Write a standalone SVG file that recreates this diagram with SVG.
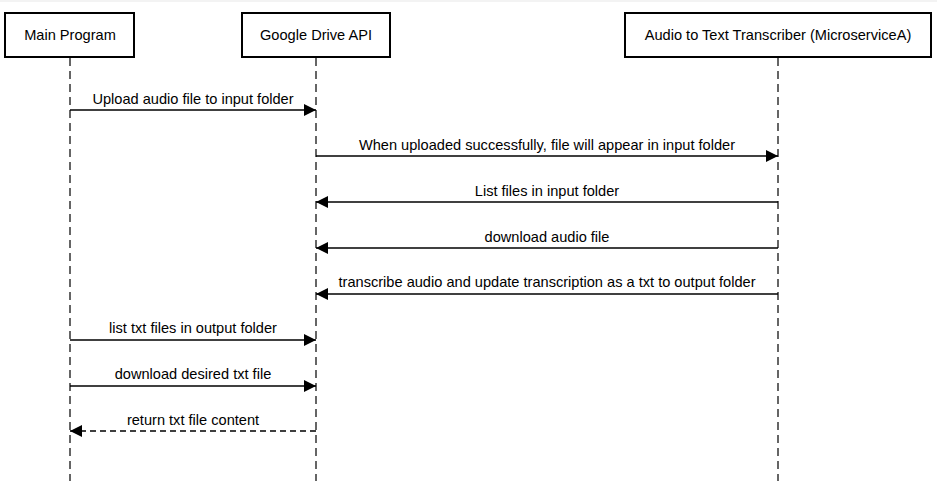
<svg xmlns="http://www.w3.org/2000/svg" width="937" height="481" viewBox="0 0 937 481">
<style>
.box{fill:#fff;stroke:#000;stroke-width:2}
.life{stroke:#333;stroke-width:1.5;stroke-dasharray:8 5;fill:none}
.msg{stroke:#000;stroke-width:1.3;fill:none}
.dash{stroke:#000;stroke-width:1.3;stroke-dasharray:6 4;fill:none}
text{font-family:"Liberation Sans",Arial,sans-serif;font-size:14.6px;fill:#000;text-anchor:middle}
</style>
<defs>
<marker id="ah" viewBox="0 0 12 12" refX="12" refY="6" markerWidth="12" markerHeight="12" markerUnits="userSpaceOnUse" orient="auto">
<path d="M0,0 L12,6 L0,12 Z" fill="#000"/>
</marker>
</defs>
<rect x="0" y="0" width="937" height="481" fill="#fff"/>
<rect x="0" y="0" width="937" height="2" fill="#f3f3f3"/>
<g id="lifelines">
<line class="life" x1="70" y1="58" x2="70" y2="481"/>
<line class="life" x1="316" y1="58" x2="316" y2="481"/>
<line class="life" x1="778" y1="58" x2="778" y2="481"/>
</g>
<g id="main-program"><rect class="box" x="5" y="13" width="129" height="44"/><text x="70" y="40">Main Program</text></g>
<g id="google-drive-api"><rect class="box" x="242" y="13" width="148" height="44"/><text x="316" y="40">Google Drive API</text></g>
<g id="transcriber"><rect class="box" x="625" y="13" width="306" height="44"/><text x="778" y="40">Audio to Text Transcriber (MicroserviceA)</text></g>
<g id="connectors">
<line class="msg" x1="70" y1="110" x2="316" y2="110" marker-end="url(#ah)"/>
<text x="193" y="104">Upload audio file to input folder</text>
<line class="msg" x1="316" y1="156" x2="778" y2="156" marker-end="url(#ah)"/>
<text x="547" y="150">When uploaded successfully, file will appear in input folder</text>
<line class="msg" x1="778" y1="202" x2="316" y2="202" marker-end="url(#ah)"/>
<text x="547" y="196">List files in input folder</text>
<line class="msg" x1="778" y1="248" x2="316" y2="248" marker-end="url(#ah)"/>
<text x="547" y="242">download audio file</text>
<line class="msg" x1="778" y1="294" x2="316" y2="294" marker-end="url(#ah)"/>
<text x="547" y="287">transcribe audio and update transcription as a txt to output folder</text>
<line class="msg" x1="70" y1="340" x2="316" y2="340" marker-end="url(#ah)"/>
<text x="193" y="333">list txt files in output folder</text>
<line class="msg" x1="70" y1="386" x2="316" y2="386" marker-end="url(#ah)"/>
<text x="193" y="379">download desired txt file</text>
<line class="dash" x1="316" y1="431" x2="70" y2="431" marker-end="url(#ah)"/>
<text x="193" y="425">return txt file content</text>
</g>
</svg>
